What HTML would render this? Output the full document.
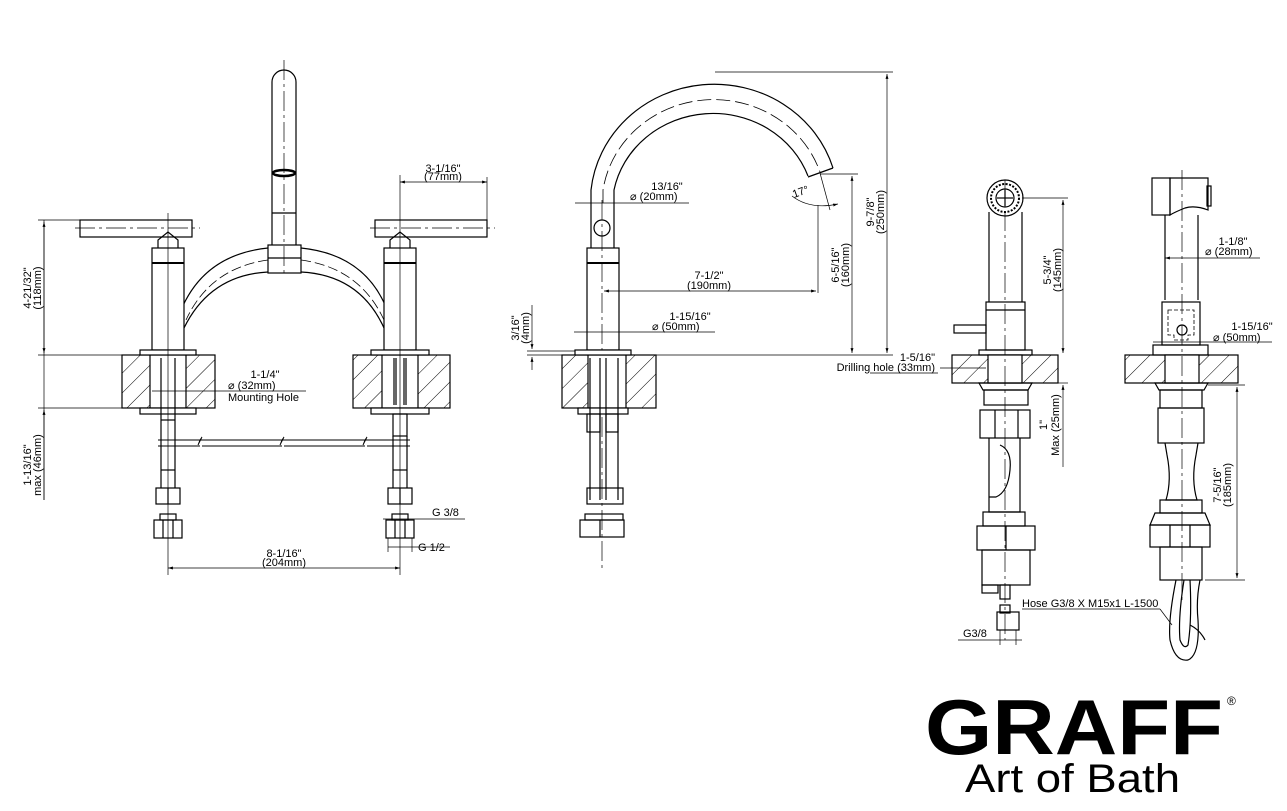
<!DOCTYPE html>
<html><head><meta charset="utf-8"><style>
html,body{margin:0;padding:0;background:#fff;}
svg{display:block;}
text{font-family:"Liberation Sans",sans-serif;fill:#000;}
</style></head><body>
<svg width="1287" height="811" viewBox="0 0 1287 811" xmlns="http://www.w3.org/2000/svg">
<defs>
<pattern id="h" width="14" height="14" patternUnits="userSpaceOnUse" patternTransform="rotate(45)">
<line x1="0" y1="0" x2="0" y2="14" stroke="#000" stroke-width="1"/>
</pattern>
<marker id="a" viewBox="0 0 10 10" refX="10" refY="5" markerWidth="7" markerHeight="7" orient="auto-start-reverse"><path d="M0,2 L10,5 L0,8 z" fill="#000"/></marker>
</defs>
<g fill="none" stroke="#000" stroke-width="1.2">

<!-- ============ VIEW 1 ============ -->
<path d="M272,245 L272,82 A12,12 0 0 1 296,82 L296,245"/>
<ellipse cx="284" cy="173" rx="11" ry="3" stroke-width="2.5"/>
<line x1="272" y1="213" x2="296" y2="213"/>
<rect x="268" y="245" width="33" height="28" fill="#fff"/>
<line x1="268" y1="258" x2="301" y2="258"/>
<line x1="284" y1="60" x2="284" y2="273" stroke-width="0.7" stroke-dasharray="20,4,3,4"/>
<path d="M268,248 Q200,255 178,318 L184,328 Q210,275 268,272"/>
<path d="M301,248 Q370,255 390,318 L384,328 Q360,275 301,272"/>
<path d="M268,260 Q210,268 186,320" stroke-dasharray="10,4" stroke-width="0.8"/>
<path d="M301,260 Q360,268 384,320" stroke-dasharray="10,4" stroke-width="0.8"/>
<rect x="80" y="220" width="112" height="17"/>
<line x1="75" y1="228" x2="200" y2="228" stroke-width="0.7" stroke-dasharray="20,4,3,4"/>
<path d="M158,248 L158,240 L168,232 L178,240 L178,248"/>
<rect x="152" y="248" width="32" height="102" fill="#fff"/>
<line x1="152" y1="263" x2="184" y2="263" stroke-width="2"/>
<rect x="375" y="220" width="112" height="17"/>
<line x1="370" y1="228" x2="495" y2="228" stroke-width="0.7" stroke-dasharray="20,4,3,4"/>
<path d="M390,248 L390,240 L400,232 L410,240 L410,248"/>
<rect x="384" y="248" width="32" height="102" fill="#fff"/>
<line x1="384" y1="263" x2="416" y2="263" stroke-width="2"/>
<rect x="122" y="355" width="93" height="53" fill="url(#h)"/>
<rect x="150" y="355" width="36" height="53" fill="#fff"/>
<rect x="140" y="350" width="56" height="5" fill="#fff"/>
<rect x="140" y="408" width="56" height="6" fill="#fff"/>
<rect x="353" y="355" width="97" height="53" fill="url(#h)"/>
<rect x="382" y="355" width="36" height="53" fill="#fff"/>
<rect x="371" y="350" width="58" height="5" fill="#fff"/>
<rect x="371" y="408" width="58" height="6" fill="#fff"/>
<line x1="394" y1="358" x2="394" y2="405"/><line x1="406" y1="358" x2="406" y2="405"/>
<line x1="396" y1="358" x2="396" y2="405"/><line x1="404" y1="358" x2="404" y2="405"/>
<path d="M161,358 L161,488 M175,358 L175,488"/>
<line x1="161" y1="420" x2="175" y2="420"/><line x1="161" y1="470" x2="175" y2="470"/>
<rect x="156" y="488" width="24" height="16"/>
<line x1="168" y1="488" x2="168" y2="504"/>
<rect x="160" y="514" width="16" height="6"/>
<rect x="154" y="520" width="28" height="18"/>
<line x1="163" y1="520" x2="163" y2="538"/><line x1="173" y1="520" x2="173" y2="538"/>
<rect x="393" y="414" width="14" height="22"/>
<path d="M393,436 L393,488 M407,436 L407,488"/>
<line x1="393" y1="470" x2="407" y2="470"/>
<rect x="388" y="488" width="24" height="16"/>
<line x1="400" y1="488" x2="400" y2="504"/>
<rect x="392" y="514" width="16" height="6"/>
<rect x="386" y="520" width="28" height="18"/>
<line x1="395" y1="520" x2="395" y2="538"/><line x1="405" y1="520" x2="405" y2="538"/>
<path d="M158,440 L200,440 L202,437 L198,445 L200,440 L282,440 L284,437 L280,445 L282,440 L365,440 L367,437 L363,445 L365,440 L410,440" stroke-width="0.9"/>
<path d="M158,446 L200,446 M202,446 L282,446 M284,446 L365,446 M367,446 L410,446" stroke-width="0.9"/>
<line x1="168" y1="213" x2="168" y2="575" stroke-width="0.7"/>
<line x1="400" y1="175" x2="400" y2="575" stroke-width="0.7"/>
<line x1="38" y1="220" x2="80" y2="220" stroke-width="0.7"/>
<line x1="38" y1="355" x2="122" y2="355" stroke-width="0.7"/>
<line x1="38" y1="408" x2="122" y2="408" stroke-width="0.7"/>
<line x1="44" y1="220" x2="44" y2="500" stroke-width="0.7"/>
<line x1="44" y1="222" x2="44" y2="353" stroke-width="0.7" marker-start="url(#a)" marker-end="url(#a)"/>
<line x1="44" y1="410" x2="44" y2="500" stroke-width="0.7" marker-start="url(#a)"/>
<line x1="400" y1="182" x2="487" y2="182" stroke-width="0.7" marker-start="url(#a)" marker-end="url(#a)"/>
<line x1="487" y1="177" x2="487" y2="220" stroke-width="0.7"/>
<line x1="152" y1="391" x2="306" y2="391" stroke-width="0.7"/>
<line x1="168" y1="568" x2="400" y2="568" stroke-width="0.7" marker-start="url(#a)" marker-end="url(#a)"/>
<line x1="383" y1="519" x2="465" y2="519" stroke-width="0.7"/>
<line x1="388" y1="547" x2="450" y2="547" stroke-width="0.7"/>
<line x1="388" y1="538" x2="388" y2="552" stroke-width="0.7"/>
<line x1="412" y1="538" x2="412" y2="552" stroke-width="0.7"/>

<!-- ============ VIEW 2 ============ -->
<path d="M591,203 L591,190 A124,118 0 0 1 833,168"/>
<path d="M614,203 L614,190 A101,95 0 0 1 808,176"/>
<path d="M603,203 L603,190 A112,106 0 0 1 820,172" stroke-dasharray="14,5" stroke-width="0.8"/>
<line x1="808" y1="177" x2="833" y2="168"/>
<line x1="591" y1="203" x2="591" y2="248"/><line x1="614" y1="203" x2="614" y2="248"/>
<circle cx="602" cy="228" r="8"/>
<rect x="587" y="248" width="32" height="102" fill="#fff"/>
<line x1="587" y1="263" x2="619" y2="263" stroke-width="2"/>
<line x1="602" y1="200" x2="602" y2="570" stroke-width="0.7" stroke-dasharray="20,4,3,4"/>
<rect x="562" y="355" width="94" height="53" fill="url(#h)"/>
<rect x="588" y="355" width="38" height="53" fill="#fff"/>
<rect x="575" y="350" width="56" height="5" fill="#fff"/>
<rect x="578" y="408" width="50" height="6" fill="#fff"/>
<path d="M590,358 L590,500 M600,358 L600,500 M606,358 L606,500 M618,358 L618,500"/>
<rect x="587" y="414" width="13" height="18"/><rect x="606" y="414" width="12" height="18"/>
<rect x="587" y="488" width="36" height="16"/>
<rect x="585" y="514" width="38" height="6"/>
<rect x="580" y="520" width="44" height="17"/>
<line x1="600" y1="520" x2="600" y2="537"/>
<line x1="715" y1="72" x2="893" y2="72" stroke-width="0.7"/>
<line x1="887" y1="74" x2="887" y2="353" stroke-width="0.7" marker-start="url(#a)" marker-end="url(#a)"/>
<line x1="820" y1="174" x2="858" y2="174" stroke-width="0.7"/>
<line x1="852" y1="176" x2="852" y2="353" stroke-width="0.7" marker-start="url(#a)" marker-end="url(#a)"/>
<line x1="527" y1="355" x2="893" y2="355" stroke-width="0.8"/>
<line x1="527" y1="351" x2="575" y2="351" stroke-width="0.7"/>
<line x1="532" y1="305" x2="532" y2="349" stroke-width="0.7" marker-end="url(#a)"/>
<line x1="532" y1="370" x2="532" y2="357" stroke-width="0.7" marker-end="url(#a)"/>
<line x1="818" y1="205" x2="818" y2="293" stroke-width="0.7"/>
<line x1="604" y1="291" x2="816" y2="291" stroke-width="0.7" marker-start="url(#a)" marker-end="url(#a)"/>
<line x1="575" y1="203" x2="689" y2="203" stroke-width="0.7"/>
<line x1="574" y1="332" x2="715" y2="332" stroke-width="0.7"/>
<path d="M792,196 Q810,210 838,204" stroke-width="0.7" marker-end="url(#a)"/>
<line x1="820" y1="173" x2="830" y2="210" stroke-width="0.7"/>
<line x1="870" y1="373" x2="938" y2="373" stroke-width="0.7"/>

<!-- ============ VIEW 3 ============ -->
<circle cx="1005" cy="198" r="18"/>
<circle cx="1005" cy="198" r="14" stroke-dasharray="2,1.5" stroke-width="2"/>
<circle cx="1005" cy="198" r="9"/>
<line x1="997" y1="198" x2="1013" y2="198"/><line x1="1005" y1="190" x2="1005" y2="206"/>
<line x1="989" y1="212" x2="989" y2="302"/><line x1="1022" y1="212" x2="1022" y2="302"/>
<rect x="986" y="302" width="39" height="48" fill="#fff"/>
<line x1="986" y1="310" x2="1025" y2="310"/>
<rect x="954" y="325" width="32" height="8"/>
<rect x="979" y="350" width="53" height="5"/>
<rect x="952" y="355" width="106" height="28" fill="url(#h)"/>
<rect x="988" y="355" width="34" height="28" fill="#fff"/>
<path d="M979,383 L1032,383 L1028,390 L983,390 z"/>
<rect x="984" y="390" width="44" height="15"/>
<rect x="980" y="410" width="50" height="28"/>
<line x1="995" y1="410" x2="995" y2="438"/><line x1="1018" y1="410" x2="1018" y2="438"/>
<path d="M989,438 L989,512 L1020,512 L1020,438"/>
<path d="M1000,445 Q1012,450 1010,470 Q1008,492 996,497 L989,497" />
<rect x="983" y="512" width="42" height="14"/>
<rect x="977" y="526" width="58" height="24"/>
<line x1="1006" y1="526" x2="1006" y2="550"/>
<rect x="982" y="550" width="48" height="35"/>
<rect x="982" y="585" width="16" height="8"/><rect x="1000" y="585" width="10" height="14"/>
<rect x="1000" y="605" width="10" height="8"/>
<rect x="997" y="612" width="22" height="18"/>
<line x1="1005" y1="180" x2="1005" y2="640" stroke-width="0.7" stroke-dasharray="20,4,3,4"/>
<line x1="1022" y1="198" x2="1068" y2="198" stroke-width="0.7"/>
<line x1="1063" y1="200" x2="1063" y2="353" stroke-width="0.7" marker-start="url(#a)" marker-end="url(#a)"/>
<line x1="1058" y1="383" x2="1068" y2="383" stroke-width="0.7"/>
<line x1="1063" y1="385" x2="1063" y2="467" stroke-width="0.7" marker-start="url(#a)"/>
<line x1="940" y1="368" x2="986" y2="368" stroke-width="0.7"/>
<line x1="958" y1="640" x2="1022" y2="640" stroke-width="0.7"/>
<line x1="1000" y1="630" x2="1000" y2="645" stroke-width="0.7"/><line x1="1016" y1="630" x2="1016" y2="645" stroke-width="0.7"/>

<!-- ============ VIEW 4 ============ -->
<rect x="1152" y="178" width="18" height="37"/>
<path d="M1170,178 L1208,178 L1208,210 Q1195,205 1185,208 Q1175,212 1170,215 z"/>
<rect x="1207" y="186" width="4" height="20"/>
<line x1="1165" y1="215" x2="1165" y2="300"/><line x1="1198" y1="215" x2="1198" y2="300"/>
<rect x="1162" y="302" width="38" height="43" fill="#fff"/>
<path d="M1168,310 L1194,310 L1194,335 L1188,335 L1188,340 L1174,340 L1174,335 L1168,335 z" stroke-dasharray="4,2" stroke-width="0.8"/>
<circle cx="1182" cy="330" r="5"/>
<rect x="1153" y="345" width="55" height="10"/>
<rect x="1125" y="355" width="113" height="28" fill="url(#h)"/>
<rect x="1165" y="355" width="34" height="28" fill="#fff"/>
<path d="M1155,383 L1208,383 L1204,390 L1159,390 z"/>
<rect x="1160" y="390" width="42" height="18"/>
<rect x="1158" y="408" width="46" height="35"/>
<path d="M1165,443 L1167,455 Q1172,480 1166,500 L1197,500 Q1191,480 1196,455 L1198,443"/>
<rect x="1160" y="500" width="42" height="13"/>
<rect x="1150" y="525" width="60" height="22"/>
<line x1="1170" y1="525" x2="1170" y2="547"/><line x1="1190" y1="525" x2="1190" y2="547"/>
<path d="M1155,513 L1205,513 L1210,525 L1150,525 z"/>
<rect x="1160" y="547" width="42" height="33"/>
<path d="M1176,580 Q1168,620 1170,640 Q1175,662 1188,660 Q1200,655 1198,620 Q1196,600 1200,580"/>
<path d="M1184,580 Q1178,618 1180,640 Q1184,650 1188,645 Q1192,620 1190,580"/>
<path d="M1190,625 Q1200,630 1205,640"/>
<line x1="1182" y1="170" x2="1182" y2="600" stroke-width="0.7" stroke-dasharray="20,4,3,4"/>
<line x1="1165" y1="258" x2="1260" y2="258" stroke-width="0.7" marker-start="url(#a)"/>
<line x1="1153" y1="342" x2="1272" y2="342" stroke-width="0.7"/>
<line x1="1208" y1="385" x2="1245" y2="385" stroke-width="0.7"/>
<line x1="1205" y1="580" x2="1245" y2="580" stroke-width="0.7"/>
<line x1="1237" y1="387" x2="1237" y2="578" stroke-width="0.7" marker-start="url(#a)" marker-end="url(#a)"/>
<line x1="1022" y1="609" x2="1160" y2="609" stroke-width="0.7"/>
<line x1="1160" y1="609" x2="1172" y2="625" stroke-width="0.7"/>
</g>

<!-- ============ TEXT ============ -->
<g font-size="11">
<text x="31" y="288" transform="rotate(-90 31 288)" text-anchor="middle">4-21/32"</text>
<text x="41" y="288" transform="rotate(-90 41 288)" text-anchor="middle">(118mm)</text>
<text x="31" y="465" transform="rotate(-90 31 465)" text-anchor="middle">1-13/16"</text>
<text x="41" y="465" transform="rotate(-90 41 465)" text-anchor="middle">max (46mm)</text>
<text x="443" y="172" text-anchor="middle">3-1/16"</text>
<text x="443" y="180" text-anchor="middle">(77mm)</text>
<text x="265" y="378" text-anchor="middle">1-1/4"</text>
<text x="228" y="389">⌀ (32mm)</text>
<text x="228" y="401">Mounting Hole</text>
<text x="284" y="557" text-anchor="middle">8-1/16"</text>
<text x="284" y="566" text-anchor="middle">(204mm)</text>
<text x="432" y="516">G 3/8</text>
<text x="418" y="551">G 1/2</text>

<text x="667" y="190" text-anchor="middle">13/16"</text>
<text x="630" y="200">⌀ (20mm)</text>
<text x="709" y="279" text-anchor="middle">7-1/2"</text>
<text x="709" y="289" text-anchor="middle">(190mm)</text>
<text x="690" y="320" text-anchor="middle">1-15/16"</text>
<text x="652" y="330">⌀ (50mm)</text>
<text x="794" y="198" transform="rotate(-20 794 198)">17°</text>
<text x="839" y="265" transform="rotate(-90 839 265)" text-anchor="middle">6-5/16"</text>
<text x="849" y="265" transform="rotate(-90 849 265)" text-anchor="middle">(160mm)</text>
<text x="874" y="212" transform="rotate(-90 874 212)" text-anchor="middle">9-7/8"</text>
<text x="884" y="212" transform="rotate(-90 884 212)" text-anchor="middle">(250mm)</text>
<text x="519" y="328" transform="rotate(-90 519 328)" text-anchor="middle">3/16"</text>
<text x="529" y="328" transform="rotate(-90 529 328)" text-anchor="middle">(4mm)</text>
<text x="935" y="361" text-anchor="end">1-5/16"</text>
<text x="935" y="371" text-anchor="end">Drilling hole (33mm)</text>

<text x="1051" y="270" transform="rotate(-90 1051 270)" text-anchor="middle">5-3/4"</text>
<text x="1061" y="270" transform="rotate(-90 1061 270)" text-anchor="middle">(145mm)</text>
<text x="1047" y="425" transform="rotate(-90 1047 425)" text-anchor="middle">1"</text>
<text x="1059" y="425" transform="rotate(-90 1059 425)" text-anchor="middle">Max  (25mm)</text>
<text x="1022" y="607">Hose G3/8 X M15x1 L-1500</text>
<text x="963" y="637">G3/8</text>
<text x="1233" y="245" text-anchor="middle">1-1/8"</text>
<text x="1205" y="255">⌀ (28mm)</text>
<text x="1252" y="330" text-anchor="middle">1-15/16"</text>
<text x="1213" y="341">⌀ (50mm)</text>
<text x="1221" y="485" transform="rotate(-90 1221 485)" text-anchor="middle">7-5/16"</text>
<text x="1231" y="485" transform="rotate(-90 1231 485)" text-anchor="middle">(185mm)</text>
</g>

<text x="925" y="754" font-size="78" font-weight="bold" textLength="298" lengthAdjust="spacingAndGlyphs">GRAFF</text>
<text x="1227" y="705" font-size="12">®</text>
<text x="965" y="792" font-size="40" textLength="215" lengthAdjust="spacingAndGlyphs">Art of Bath</text>
</svg>
</body></html>
